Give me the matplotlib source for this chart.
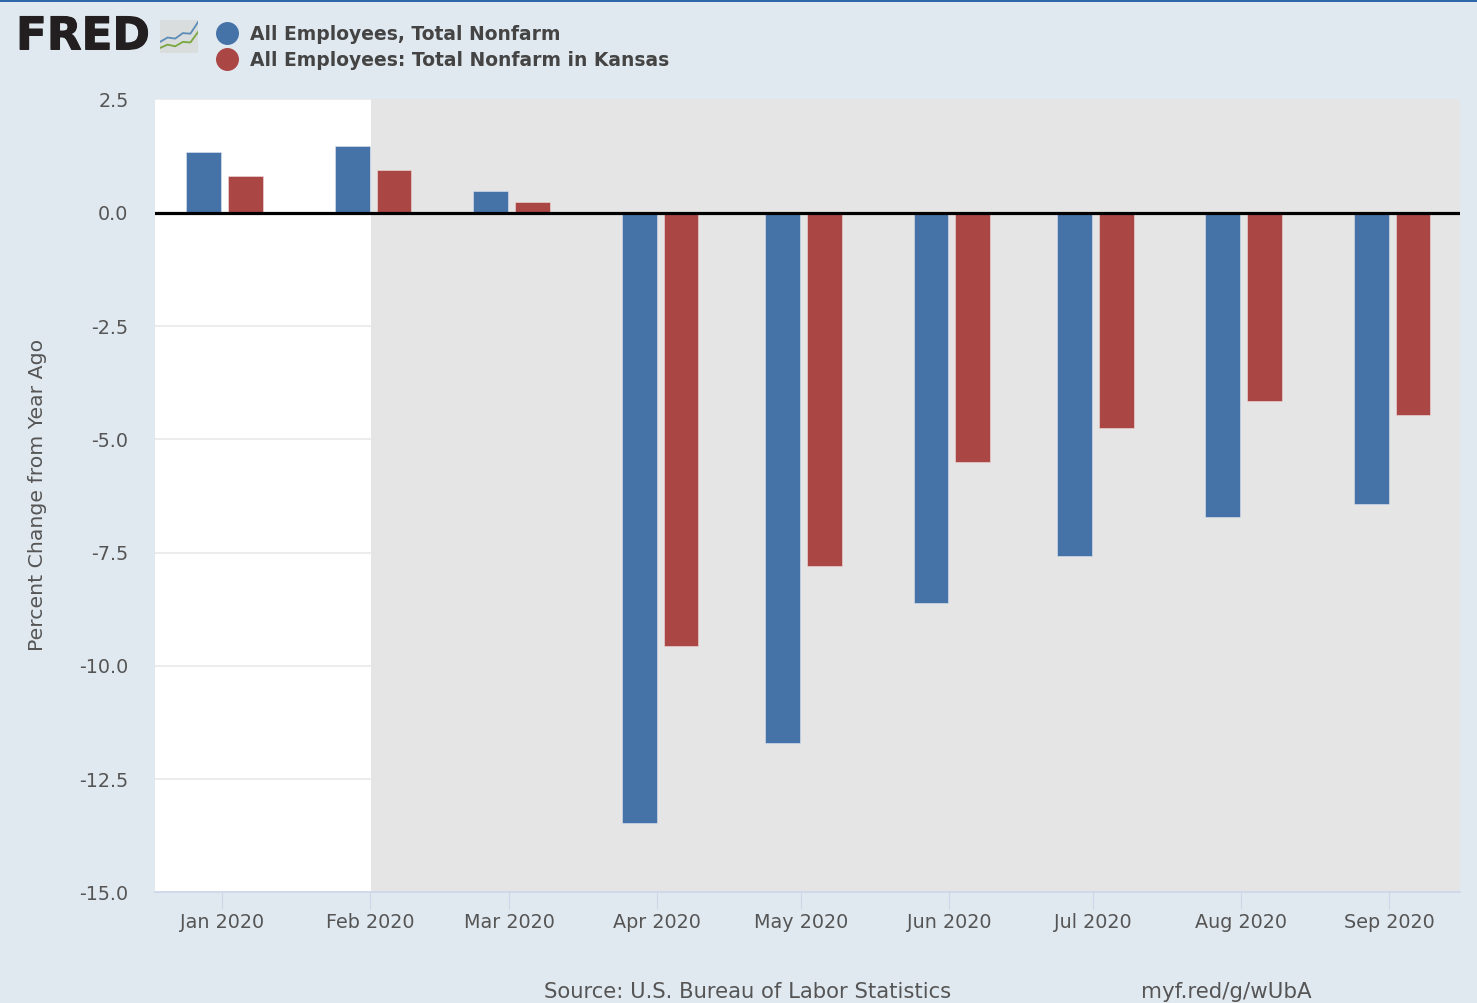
"""FRED-style bar chart: employment change from a year ago, US vs Kansas."""

import matplotlib
matplotlib.use("Agg")
import matplotlib.dates as mdates
import matplotlib.patheffects as pe
import matplotlib.pyplot as plt
from matplotlib.lines import Line2D

months = ["2020-01-01", "2020-02-01", "2020-03-01", "2020-04-01", "2020-05-01",
          "2020-06-01", "2020-07-01", "2020-08-01", "2020-09-01"]
month_labels = ["Jan 2020", "Feb 2020", "Mar 2020", "Apr 2020", "May 2020",
                "Jun 2020", "Jul 2020", "Aug 2020", "Sep 2020"]
total_nonfarm = [1.33, 1.48, 0.49, -13.46, -11.71, -8.62, -7.58, -6.72, -6.43]
kansas_nonfarm = [0.82, 0.95, 0.24, -9.55, -7.80, -5.50, -4.75, -4.15, -4.46]
y_ticks = [2.5, 0.0, -2.5, -5.0, -7.5, -10.0, -12.5, -15.0]
series_names = ["All Employees, Total Nonfarm",
                "All Employees: Total Nonfarm in Kansas"]

BG = "#e1e9f0"
BLUE = "#4572a7"
RED = "#aa4643"
TEXT = "#555555"
AXIS = "#ccd6eb"
GRID = "#e9e9e9"
SHADE = "#e5e5e5"
W, H = 1477, 1003


def main():
    fig = plt.figure(figsize=((W + 0.1) / 100, (H + 0.1) / 100), dpi=100, facecolor=BG)
    ax = fig.add_axes([155 / W, 1 - 892.5 / H, 1305 / W, 793 / H], facecolor="white")

    x = mdates.datestr2num(months)
    start = x[0]
    ax.bar(x - 3.8, total_nonfarm, 7.3, color=BLUE, edgecolor="#dfe6f0", linewidth=0.4, zorder=3)
    ax.bar(x + 4.95, kansas_nonfarm, 7.3, color=RED, edgecolor="#f0dfdf", linewidth=0.4, zorder=3)

    ax.set_xlim(start - 14, start + 258.8)
    ax.set_ylim(-15, 2.5)
    # recession band
    ax.axvspan(x[1] + 0.2, start + 258.8, color=SHADE, lw=0, zorder=1)
    ax.axhline(0, color="black", lw=2.3, zorder=4)

    ax.set_xticks(x)
    ax.set_xticklabels(month_labels)
    ax.set_yticks(y_ticks)
    ax.set_yticklabels([f"{v:.1f}" for v in y_ticks])
    ax.grid(axis="y", color=GRID, lw=1.2, zorder=0)
    ax.set_axisbelow(True)
    ax.tick_params(axis="x", length=12, width=0.8, color=AXIS, labelcolor=TEXT,
                   labelsize=13.8, pad=2.5)
    ax.tick_params(axis="y", length=0, labelcolor=TEXT, labelsize=13.8, pad=19)
    for side in ["top", "right", "left"]:
        ax.spines[side].set_visible(False)
    ax.spines["bottom"].set_color(AXIS)
    ax.spines["bottom"].set_linewidth(1.2)

    fig.text(37 / W, 1 - 495 / H, "Percent Change from Year Ago", rotation=90,
             ha="center", va="center", color=TEXT, fontsize=14.7)

    handles = [Line2D([], [], ls="", marker="o", ms=15.5, color=c) for c in (BLUE, RED)]
    fig.legend(handles, series_names, loc="upper left", bbox_to_anchor=(191 / W, 1 - 8 / H),
               frameon=False, labelcolor="#444444", handletextpad=0.27,
               labelspacing=0.38, prop={"weight": "bold", "size": 13.5})

    fig.text(544 / W, 1 - 992 / H, "Source: U.S. Bureau of Labor Statistics", ha="left",
             va="center", color=TEXT, fontsize=15.2)
    fig.text(1141 / W, 1 - 992 / H, "myf.red/g/wUbA", ha="left", va="center",
             color=TEXT, fontsize=15.4)

    # logo
    logo = fig.text(16 / W, 1 - 37 / H, "FRED", family="DejaVu Sans", weight="bold",
                    fontsize=32.5, color="#231f20", ha="left", va="center")
    logo.set_path_effects([pe.withStroke(linewidth=0.8, foreground="#231f20")])
    icon = fig.add_axes([160 / W, 1 - 53 / H, 38 / W, 33 / H], facecolor="#d9dddd")
    icon.plot([0, 1, 2, 3, 4, 5], [2.0, 2.8, 2.6, 3.6, 3.5, 5.6], color="#5b8db8", lw=1.3)
    icon.plot([0, 1, 2, 3, 4, 5], [0.9, 1.5, 1.2, 2.0, 1.9, 3.8], color="#7aa63f", lw=1.3)
    icon.set_xlim(0, 5)
    icon.set_ylim(0, 6)
    icon.set_xticks([])
    icon.set_yticks([])
    for spine in icon.spines.values():
        spine.set_visible(False)

    # thin blue rule along the top edge
    fig.add_artist(Line2D([0, 1], [1 - 0.8 / H] * 2, color="#0b4f9e", lw=1.2))

    fig.savefig("out.png", dpi=100, facecolor=BG)


if __name__ == "__main__":
    main()
